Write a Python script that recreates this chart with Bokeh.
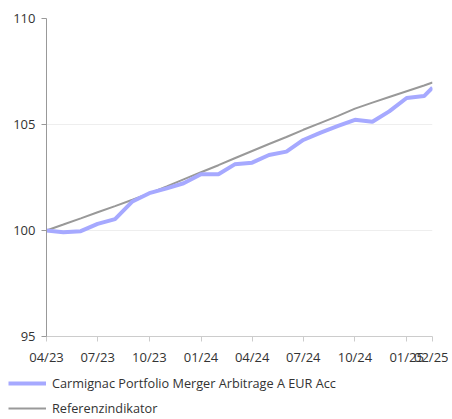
from datetime import datetime
from bokeh.plotting import figure
from bokeh.models import (Range1d, FixedTicker, DatetimeTickFormatter, Legend, LegendItem)
from bokeh.embed import file_html
from bokeh.resources import INLINE

dates = ["2023-04-01", "2023-05-01", "2023-06-01", "2023-07-01", "2023-08-01", "2023-09-01",
         "2023-10-01", "2023-11-01", "2023-12-01", "2024-01-01", "2024-02-01", "2024-03-01",
         "2024-04-01", "2024-05-01", "2024-06-01", "2024-07-01", "2024-08-01", "2024-09-01",
         "2024-10-01", "2024-11-01", "2024-12-01", "2025-01-01", "2025-02-01", "2025-02-16"]
fund = [100.0, 99.92, 99.97, 100.31, 100.54, 101.37, 101.76, 101.99, 102.23, 102.65, 102.65, 103.12,
        103.20, 103.56, 103.72, 104.27, 104.62, 104.93, 105.22, 105.13, 105.62, 106.25, 106.34, 106.74]
reference = [100.0, 100.28, 100.57, 100.86, 101.15, 101.45, 101.75, 102.08, 102.41, 102.75, 103.08, 103.41,
             103.75, 104.08, 104.41, 104.75, 105.08, 105.41, 105.75, 106.03, 106.30, 106.57, 106.84, 106.98]
tick_dates = ["2023-04-01", "2023-07-01", "2023-10-01", "2024-01-01", "2024-04-01", "2024-07-01",
              "2024-10-01", "2025-01-01", "2025-02-16"]
y_ticks = [95, 100, 105, 110]
fund_name = "Carmignac Portfolio Merger Arbitrage A EUR Acc"
ref_name = "Referenzindikator"

x = [datetime.fromisoformat(d) for d in dates]
tick_ms = [datetime.fromisoformat(d).timestamp() * 1000 for d in tick_dates]

FONT = "Open Sans"
TXT = "#333333"
FUND_COLOR = "#a6a9ff"
REF_COLOR = "#999999"

p = figure(width=448, height=368, x_axis_type="datetime", output_backend="svg",
           toolbar_location=None, x_range=Range1d(x[0], x[-1]), y_range=Range1d(95, 110),
           min_border_left=46, min_border_right=16, min_border_top=18, min_border_bottom=30)
p.outline_line_color = None
p.background_fill_color = "white"
p.border_fill_color = "white"

p.xgrid.visible = False
p.ygrid.grid_line_color = "#eeeeee"
p.ygrid.ticker = FixedTicker(ticks=y_ticks)

p.xaxis.ticker = FixedTicker(ticks=tick_ms)
fmt = "%m/%y"
p.xaxis.formatter = DatetimeTickFormatter(milliseconds=fmt, seconds=fmt, minsec=fmt, minutes=fmt,
                                          hourmin=fmt, hours=fmt, days=fmt, months=fmt, years=fmt)
p.yaxis.ticker = FixedTicker(ticks=y_ticks)

for ax in (p.xaxis[0], p.yaxis[0]):
    ax.major_label_text_font = FONT
    ax.major_label_text_font_size = "13px"
    ax.major_label_text_color = TXT
    ax.minor_tick_line_color = None
    ax.major_tick_in = 0
    ax.major_tick_out = 5
    ax.major_label_standoff = 6
p.xaxis.axis_line_color = "#cccccc"
p.xaxis.major_tick_line_color = "#cccccc"
p.yaxis.axis_line_color = REF_COLOR
p.yaxis.major_tick_line_color = REF_COLOR

p.line(x, reference, line_color=REF_COLOR, line_width=2)
p.line(x, fund, line_color=FUND_COLOR, line_width=4)

# legend panel below the chart (separate root, so its frame is not aligned to the chart's)
q = figure(width=448, height=50, output_backend="svg", toolbar_location=None,
           x_range=Range1d(0, 1), y_range=Range1d(0, 1), min_border=0,
           x_axis_location=None, y_axis_location=None)
q.outline_line_color = None
q.xgrid.visible = False
q.ygrid.visible = False
lf = q.line([5, 6], [5, 6], line_color=FUND_COLOR, line_width=4)
lr = q.line([5, 6], [5, 6], line_color=REF_COLOR, line_width=2)
legend = Legend(items=[LegendItem(label=fund_name, renderers=[lf]),
                       LegendItem(label=ref_name, renderers=[lr])],
                location=(8, 0), orientation="vertical",
                label_text_font=FONT, label_text_font_size="12.7px", label_text_color=TXT,
                glyph_width=38, glyph_height=20, label_standoff=6, spacing=5,
                padding=0, margin=0, border_line_color=None, background_fill_alpha=0)
q.add_layout(legend, "center")

open("out.html", "w").write(file_html([p, q], INLINE))
